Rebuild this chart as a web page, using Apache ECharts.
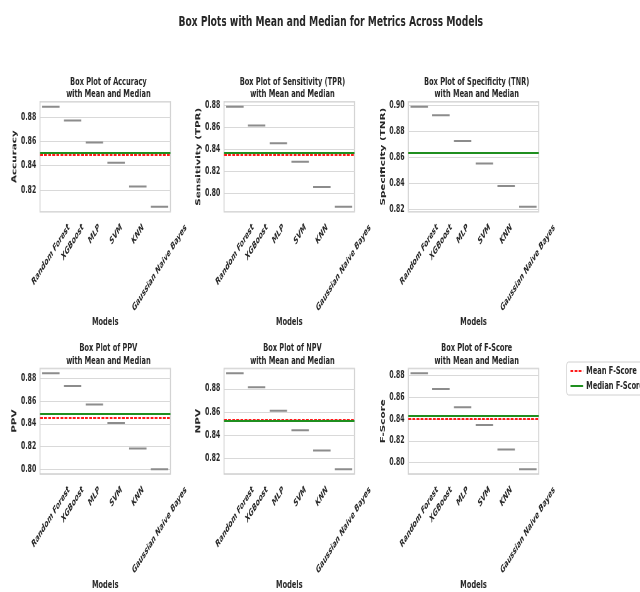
<!DOCTYPE html>
<html>
<head>
<meta charset="utf-8">
<script src="https://cdn.jsdelivr.net/npm/echarts@6/dist/echarts.min.js"></script>
<style>
  html, body { margin: 0; padding: 0; background: #fff; overflow: hidden; width: 640px; height: 592px; }
  /* The figure is laid out on a wider canvas and compressed horizontally to 640px */
  #chart { width: 1016px; height: 592px; transform: scaleX(0.63); transform-origin: 0 0; }
</style>
</head>
<body>
<div id="chart"></div>
<script>
// ---- data ----
const models = ['Random Forest', 'XGBoost', 'MLP', 'SVM', 'KNN', 'Gaussian Naive Bayes'];
const metricNames = ['Accuracy', 'Sensitivity (TPR)', 'Specificity (TNR)', 'PPV', 'NPV', 'F-Score'];
const accuracy    = [0.8887, 0.8773, 0.8592, 0.8425, 0.8228, 0.8062];
const sensitivity = [0.8785, 0.8615, 0.8455, 0.8288, 0.8060, 0.7882];
const specificity = [0.8988, 0.8923, 0.8725, 0.8554, 0.8381, 0.8223];
const ppv         = [0.8848, 0.8734, 0.8572, 0.8409, 0.8183, 0.8000];
const npv         = [0.8936, 0.8814, 0.8611, 0.8442, 0.8267, 0.8106];
const fscore      = [0.8818, 0.8673, 0.8508, 0.8344, 0.8120, 0.7941];
const tickStep = 0.02;

const metricValues = [accuracy, sensitivity, specificity, ppv, npv, fscore];

// ---- helpers ----
const mean = a => a.reduce((s, v) => s + v, 0) / a.length;
const median = a => {
  const s = [...a].sort((x, y) => x - y), m = s.length >> 1;
  return s.length % 2 ? s[m] : (s[m - 1] + s[m]) / 2;
};

// ---- layout (pixels on the wide canvas) ----
const colLeft = [63.5, 355.6, 648.1];
const rowTop = [101.7, 368.4];
const nameGapX = [103.5, 106];
const plotW = 207, plotH = 110;
const TEXT = '#262626';
const FONT = '"DejaVu Sans", sans-serif';
const MEAN_COLOR = '#ff1a1a', MEDIAN_COLOR = '#1f8f1f';

// rotated tick labels: the rotated text box is centred under its tick
const ROT = 45, LBL_SIZE = 9.6, LBL_LH = 11;
const measureCtx = document.createElement('canvas').getContext('2d');
measureCtx.font = 'italic bold ' + LBL_SIZE + 'px "DejaVu Sans"';
const sinR = Math.sin(ROT * Math.PI / 180), cosR = Math.cos(ROT * Math.PI / 180);
const labelRich = {};
models.forEach((m, i) => {
  const w = measureCtx.measureText(m).width;
  const d = (w * sinR + LBL_LH * cosR) / 2;
  labelRich['m' + i] = {
    fontFamily: FONT, fontSize: LBL_SIZE, fontWeight: 'bold', fontStyle: 'italic',
    color: TEXT, lineHeight: LBL_LH,
    padding: [2 * d * cosR, 2 * d * sinR, 0, 0]
  };
});

const grids = [], xAxes = [], yAxes = [], series = [], titles = [];

titles.push({
  text: 'Box Plots with Mean and Median for Metrics Across Models',
  left: 520, top: 10, textAlign: 'center',
  textStyle: { fontFamily: FONT, fontSize: 14.5, fontWeight: 'bold', color: TEXT }
});

metricValues.forEach((vals, i) => {
  const name = metricNames[i];
  const r = Math.floor(i / 3), c = i % 3;
  const left = colLeft[c], top = rowTop[r];
  const mu = mean(vals), med = median(vals);
  const lo = Math.min(...vals, mu, med), hi = Math.max(...vals, mu, med);
  const pad = (hi - lo) * 0.05;

  grids.push({ left, top, width: plotW, height: plotH, show: true,
    borderColor: '#cfcfcf', borderWidth: 1.5, backgroundColor: '#fff' });

  titles.push({
    text: 'Box Plot of ' + name + '\nwith Mean and Median',
    left: left + plotW / 2, top: top - 31, textAlign: 'center',
    textStyle: { fontFamily: FONT, fontSize: 10.5, fontWeight: 'bold', color: TEXT, lineHeight: 12.7 }
  });

  xAxes.push({
    gridIndex: i, type: 'category', data: models, boundaryGap: true,
    name: 'Models', nameLocation: 'middle', nameGap: nameGapX[r],
    nameTextStyle: { fontFamily: FONT, fontSize: 10.5, fontWeight: 'bold', color: TEXT },
    axisLine: { show: false }, axisTick: { show: false }, splitLine: { show: false },
    axisLabel: {
      interval: 0, rotate: ROT, margin: 10.5, align: 'center', verticalAlign: 'middle',
      formatter: (v, idx) => '{m' + idx + '|' + v + '}',
      rich: labelRich
    }
  });

  yAxes.push({
    gridIndex: i, type: 'value', min: lo - pad, max: hi + pad,
    minInterval: tickStep, maxInterval: tickStep,
    name: name, nameLocation: 'middle', nameGap: 35,
    nameTextStyle: { fontFamily: FONT, fontSize: 10.4, fontWeight: 'bold', color: TEXT },
    axisLine: { show: false }, axisTick: { show: false },
    splitLine: { show: true, lineStyle: { color: '#d9d9d9', width: 1 } },
    axisLabel: {
      margin: 6, fontFamily: FONT, fontSize: 9.8, fontWeight: 'bold', color: TEXT,
      formatter: v => Math.abs(v / tickStep - Math.round(v / tickStep)) < 1e-6 ? v.toFixed(2) : ''
    }
  });

  series.push({
    type: 'boxplot', xAxisIndex: i, yAxisIndex: i,
    data: vals.map(v => [v, v, v, v, v]),
    boxWidth: ['80%', '80%'],
    itemStyle: { color: '#ffffff', borderColor: '#8c8c8c', borderWidth: 2 },
    emphasis: { disabled: true }, z: 3
  });

  series.push({
    type: 'line', name: 'Mean ' + name, xAxisIndex: i, yAxisIndex: i, data: [],
    symbol: 'none', color: MEAN_COLOR,
    lineStyle: { color: MEAN_COLOR, type: [4.5, 2], width: 1.8 },
    markLine: { silent: true, precision: 6, symbol: ['none', 'none'], label: { show: false },
      lineStyle: { color: MEAN_COLOR, type: [4.5, 2], width: 1.8 },
      data: [{ yAxis: mu }] },
    z: 4
  });

  series.push({
    type: 'line', name: 'Median ' + name, xAxisIndex: i, yAxisIndex: i, data: [],
    symbol: 'none', color: MEDIAN_COLOR,
    lineStyle: { color: MEDIAN_COLOR, type: 'solid', width: 2 },
    markLine: { silent: true, precision: 6, symbol: ['none', 'none'], label: { show: false },
      lineStyle: { color: MEDIAN_COLOR, type: 'solid', width: 2 },
      data: [{ yAxis: med }] },
    z: 5
  });
});

const chart = echarts.init(document.getElementById('chart'), null, { renderer: 'canvas' });
chart.setOption({
  animation: false,
  backgroundColor: '#ffffff',
  title: titles,
  grid: grids,
  xAxis: xAxes,
  yAxis: yAxes,
  legend: {
    data: ['Mean F-Score', 'Median F-Score'],
    orient: 'vertical', left: 899.5, top: 362,
    itemWidth: 20, itemHeight: 8, itemGap: 1,
    padding: [2, 6, 2, 5],
    itemStyle: { opacity: 0 },
    borderColor: '#d0d0d0', borderWidth: 1, borderRadius: 3,
    textStyle: { fontFamily: FONT, fontSize: 10.5, fontWeight: 'bold', color: TEXT, lineHeight: 14 }
  },
  series
});
</script>
</body>
</html>
